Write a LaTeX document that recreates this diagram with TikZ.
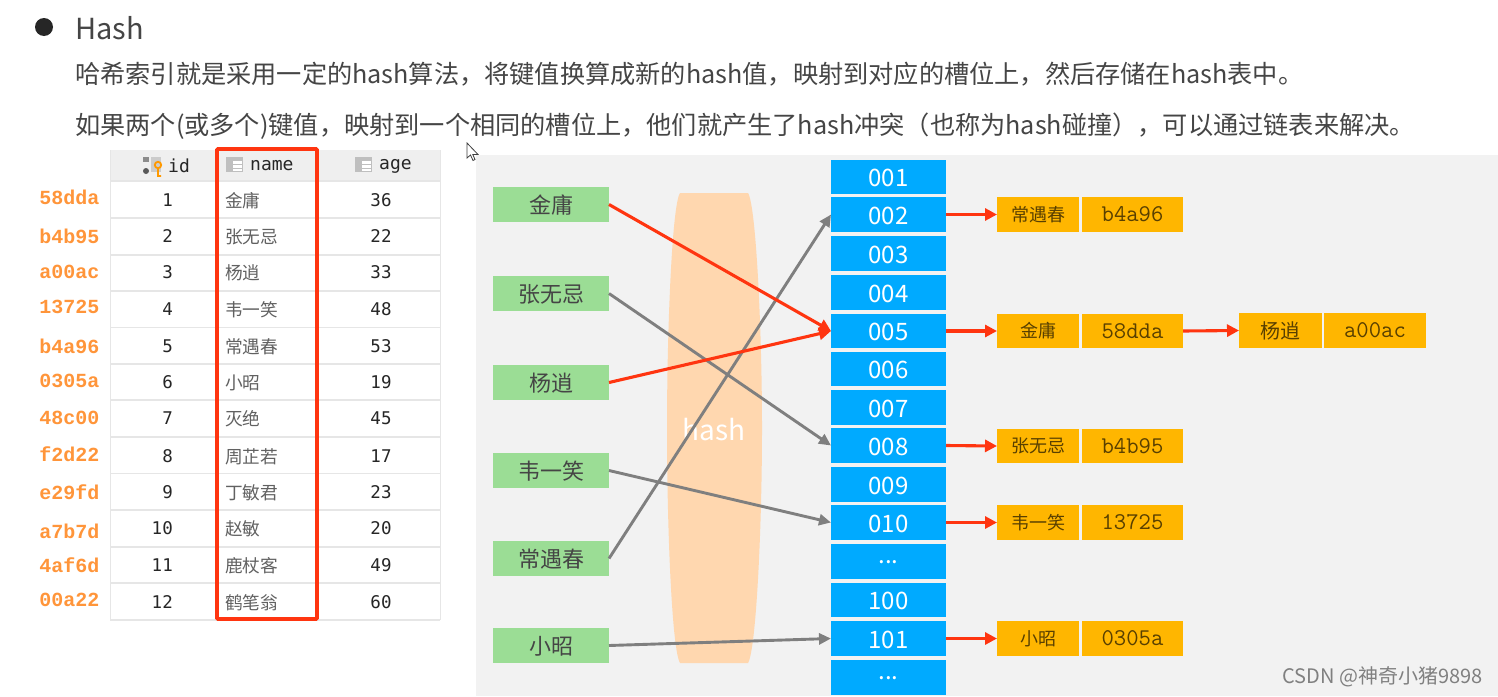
\documentclass[tikz,border=0pt]{standalone}
\usepackage{fontspec}
\usetikzlibrary{arrows.meta}
\setmainfont{Noto Sans CJK SC}
\newfontfamily\monob{Liberation Mono}
\newfontfamily\dvm{DejaVu Sans Mono}
\definecolor{bgg}{HTML}{F2F2F2}
\definecolor{cellb}{HTML}{00AAFF}
\definecolor{cellg}{HTML}{9BDD95}
\definecolor{cello}{HTML}{FFB600}
\definecolor{redl}{HTML}{FF3510}
\definecolor{grayl}{HTML}{7F7F7F}
\definecolor{hashc}{HTML}{FFD7AF}
\definecolor{hd}{HTML}{EFEFEF}
\definecolor{rowl}{HTML}{E6E6E6}
\definecolor{hexc}{HTML}{FF953A}
\definecolor{txtd}{HTML}{454545}
\tikzset{
 x=1pt,y=-1pt,
 boxb/.style={inner sep=0pt,outer sep=0pt,anchor=center},
 slot/.style={boxb,fill=cellb,text=white,font=\fontsize{24}{24}\selectfont},
 keyb/.style={boxb,fill=cellg,text=txtd,font=\fontsize{22}{22}\selectfont},
 valb/.style={boxb,fill=cello,text=black!65!cello,font=\fontsize{18}{18}\selectfont},
 hexv/.style={boxb,fill=cello,text=black!65!cello,font=\ttfamily\fontsize{24}{24}\selectfont},
 redarrow/.style={draw=redl,line width=3.1pt,-{Triangle[length=12pt,width=12pt]}},
 grayarrow/.style={draw=grayl,line width=2.9pt,-{Triangle[length=12pt,width=11pt]}},
 hexlab/.style={inner sep=0pt,text=hexc,font=\monob\bfseries\fontsize{20}{20}\selectfont},
 numt/.style={inner sep=0pt,text=black!85,font=\dvm\fontsize{17.5}{17}\selectfont},
 namet/.style={inner sep=0pt,anchor=west,text=black!62,font=\fontsize{17.7}{18}\selectfont},
 headt/.style={inner sep=0pt,anchor=west,text=black!85,font=\dvm\fontsize{18}{18}\selectfont},
 para/.style={inner sep=0pt,anchor=west,text=txtd,font=\fontsize{25.2}{26}\selectfont},
}
\newcommand{\bx}[7]{\node[#1,minimum width=#5pt - #3pt,minimum height=#6pt - #4pt] (#2) at ({(#3+#5)/2},{(#4+#6)/2}) {#7};}
\newcommand{\bxd}[7]{\node[#1,minimum width=#5pt - #3pt,minimum height=#6pt - #4pt] (#2) at ({(#3+#5)/2},{(#4+#6)/2}) {\raisebox{-1pt}[\height][\depth]{#7}};}
\newcommand{\tabicon}[2]{%
 \fill[black!25] (#1,#2) rectangle ++(17,15);
 \fill[white] (#1+7,#2+4) rectangle ++(8.5,2.5);
 \fill[white] (#1+7,#2+8) rectangle ++(8.5,2.5);
 \fill[white] (#1+7,#2+12) rectangle ++(8.5,2);
}
\begin{document}
\begin{tikzpicture}
\useasboundingbox (0,0) rectangle (1498,696);
\fill[white] (0,0) rectangle (1498,696);
\fill[bgg] (476,155) rectangle (1498,696);

% intro
\fill[black!85] (44,27) circle (9);
\node[inner sep=0pt,anchor=west,text=txtd,font=\fontsize{29}{29}\selectfont] (title) at (75,28) {Hash};
\node[para] (p1) at (75,74) {哈希索引就是采用一定的hash算法，将键值换算成新的hash值，映射到对应的槽位上，然后存储在hash表中。};
\node[para] (p2) at (75,126) {如果两个(或多个)键值，映射到一个相同的槽位上，他们就产生了hash冲突（也称为hash碰撞），可以通过链表来解决。};

% cursor
\draw[black!75,fill=white,line width=.8pt] (467,143) -- (467,158) -- (470.5,155) -- (473,160.5) -- (475,159.5) -- (472.8,154.5) -- (478,154.5) -- cycle;

% table
\fill[hd] (110,150) rectangle (440,180);
\draw[rowl,line width=1pt] (110,150) -- (110,620) (440,150) -- (440,620);
\foreach \yy in {181,218,255,291,327.5,364,400,437,473.5,510,547,583,620}
  \draw[rowl,line width=1.4pt] (110,\yy) -- (440,\yy);
\fill[black!45] (143,157) rectangle (149,162);
\fill[black!20] (151,157) rectangle (161,172);
\fill[black!65] (146,171) circle (3);
\draw[orange!80!yellow,line width=1.8pt] (158,165) circle (3.2) (158,168) -- (158,176) -- (161,176);
\tabicon{226}{157}
\tabicon{355}{157}
\node[headt] (hid) at (168,166) {id};
\node[headt] (hname) at (250,166) {name};
\node[headt] (hage) at (379,166) {age};

\foreach \i/\hx/\nm/\ag/\yh/\yr in {
 1/58dda/金庸/36/197/200, 2/b4b95/张无忌/22/236/236, 3/a00ac/杨逍/33/272/272,
 4/13725/韦一笑/48/307/309, 5/b4a96/常遇春/53/346/346, 6/0305a/小昭/19/381/382,
 7/48c00/灭绝/45/418/418, 8/f2d22/周芷若/17/454/456, 9/e29fd/丁敏君/23/492/492,
 10/a7b7d/赵敏/20/531/528, 11/4af6d/鹿杖客/49/565/565, 12/00a22/鹤笔翁/60/600/602}{
  \node[hexlab] (hex\i) at (69.5,\yh) {\hx};
  \node[numt,anchor=east] (id\i) at (173,\yr) {\i};
  \node[namet] (nm\i) at (225,\yr+0.5) {\nm};
  \node[numt] (ag\i) at (381,\yr) {\ag};
}
\draw[redl,line width=3.6pt,rounded corners=1pt] (217,149) rectangle (317,619);

% hash band
\fill[hashc] (680,193) -- (748,193) .. controls (756,205) and (762,330) .. (762,428)
  .. controls (762,530) and (756,650) .. (748,663) -- (680,663)
  .. controls (672,650) and (667,530) .. (667,428)
  .. controls (667,330) and (672,205) .. (680,193) -- cycle;
\node[inner sep=0pt,text=white,font=\fontsize{28}{28}\selectfont] (hashl) at (714,430) {hash};

% slots
\bxd{slot}{s1}{831}{160}{946}{194}{001}
\bxd{slot}{s2}{831}{197}{946}{232}{002}
\bxd{slot}{s3}{831}{236}{946}{271}{003}
\bxd{slot}{s4}{831}{275}{946}{310}{004}
\bxd{slot}{s5}{831}{314}{946}{348}{005}
\bxd{slot}{s6}{831}{352}{946}{386}{006}
\bxd{slot}{s7}{831}{390}{946}{425}{007}
\bxd{slot}{s8}{831}{428}{946}{463}{008}
\bxd{slot}{s9}{831}{467}{946}{502}{009}
\bxd{slot}{s10}{831}{505}{946}{540}{010}
\bxd{slot}{s11}{831}{544}{946}{579}{...}
\bxd{slot}{s12}{831}{583}{946}{617}{100}
\bxd{slot}{s13}{831}{621}{946}{656}{101}
\bxd{slot}{s14}{831}{660}{946}{695}{...}

% keys
\bxd{keyb}{k1}{493}{187}{609}{222}{金庸}
\bxd{keyb}{k2}{493}{276}{609}{311}{张无忌}
\bxd{keyb}{k3}{493}{365}{609}{400}{杨逍}
\bxd{keyb}{k4}{493}{453}{609}{488}{韦一笑}
\bxd{keyb}{k5}{493}{541}{609}{576}{常遇春}
\bxd{keyb}{k6}{493}{628}{609}{663}{小昭}

% values
\bx{valb}{v2}{997}{197}{1079}{232}{常遇春}
\bx{hexv}{h2}{1082}{197}{1183}{232}{b4a96}
\bx{valb}{v5}{997}{314}{1079}{348}{金庸}
\bx{hexv}{h5}{1082}{314}{1183}{348}{58dda}
\bx{valb}{w5}{1239}{313}{1322}{348}{\fontsize{20}{20}\selectfont 杨逍}
\bx{hexv}{x5}{1324}{313}{1426}{348}{a00ac}
\bx{valb}{v8}{997}{429}{1079}{463}{张无忌}
\bx{hexv}{h8}{1082}{429}{1183}{463}{b4b95}
\bx{valb}{v10}{997}{505}{1079}{540}{韦一笑}
\bx{hexv}{h10}{1082}{505}{1183}{540}{13725}
\bx{valb}{v13}{997}{621}{1079}{656}{小昭}
\bx{hexv}{h13}{1082}{621}{1183}{656}{0305a}

% connectors
\draw[grayarrow] (k2.east) -- (s8.west);
\draw[grayarrow] (k4.east) -- (s10.west);
\draw[grayarrow] (k5.east) -- (s2.west);
\draw[grayarrow] (k6.east) -- (s13.west);
\draw[redarrow] (k1.east) -- (s5.west);
\draw[redarrow] (k3.east) -- (s5.west);
\draw[redarrow] (s2.east) -- (v2.west);
\draw[redarrow] (s5.east) -- (v5.west);
\draw[redarrow] (h5.east) -- (w5.west);
\draw[redarrow] (s8.east) -- (v8.west);
\draw[redarrow] (s10.east) -- (v10.west);
\draw[redarrow] (s13.east) -- (v13.west);

\node[inner sep=0pt,anchor=east,text=black!50,font=\fontsize{20}{20}\selectfont] (wm) at (1483,677) {CSDN @神奇小猪9898};
\end{tikzpicture}
\end{document}
